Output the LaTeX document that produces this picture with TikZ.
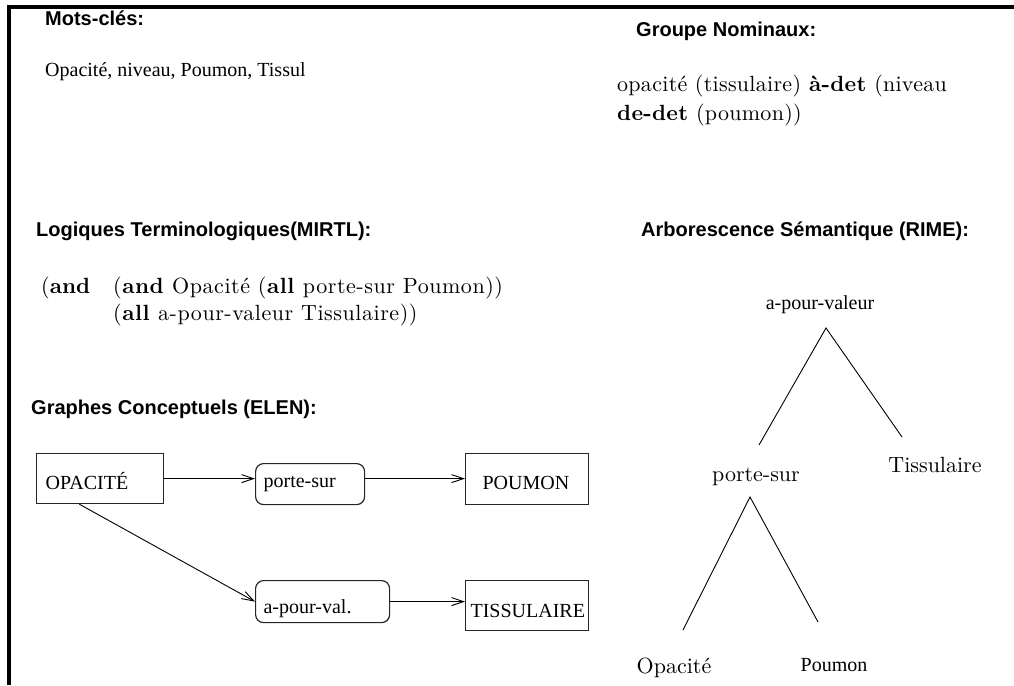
\documentclass[tikz,border=0pt]{standalone}
\usepackage{fontspec}
\setmainfont{lmroman10-regular.otf}[BoldFont=lmroman10-bold.otf]
\newfontfamily\tms{Liberation Serif}
\newfontfamily\helv{Liberation Sans}
\usetikzlibrary{arrows.meta,calc}
\begin{document}
\begin{tikzpicture}[x=1pt,y=-1pt,
  headtxt/.style={font=\helv\bfseries\fontsize{20}{24}\selectfont, inner sep=0pt, anchor=base west},
  tmtxt/.style={font=\tms\fontsize{20}{24}\selectfont, inner sep=0pt},
  cmtxt/.style={font=\fontsize{22}{28}\selectfont, inner sep=0pt},
  cbox/.style={draw=black!85, line width=1.2pt, font=\tms\fontsize{20}{24}\selectfont,
    anchor=north west, align=left, inner ysep=0pt},
  rbox/.style={cbox, rounded corners=8pt},
  arrline/.style={line width=0.9pt, -{Straight Barb[length=12pt,width=8pt,line width=0.9pt]}},
  legline/.style={line width=0.9pt}
]
\useasboundingbox (0,0) rectangle (1014,685);
\draw[line width=4pt, line join=miter] (8.5,685) -- (8.5,7.5) -- (1014,7.5);

% Mots-cles
\node[headtxt] (h1) at (45,26) {Mots-clés:};
\node[tmtxt, anchor=base west] (kw) at (45,76) {Opacité, niveau, Poumon, Tissul};

% Groupe Nominaux
\node[headtxt] (h2) at (636,37) {Groupe Nominaux:};
\node[cmtxt, anchor=base west] (gn1) at (617,92) {\addfontfeatures{LetterSpace=1.3}opacité (tissulaire) \textbf{à-det} (niveau};
\node[cmtxt, anchor=base west] (gn2) at (617,120) {\addfontfeatures{LetterSpace=1.3}\textbf{de-det} (poumon))};

% Logiques
\node[headtxt] (h3) at (36,236) {Logiques Terminologiques(MIRTL):};
\node[cmtxt, anchor=base west] (and0) at (41,293) {(\textbf{and}};
\node[cmtxt, anchor=base west] (f1) at (113,293) {\addfontfeatures{LetterSpace=2.5}(\textbf{and} Opacité (\textbf{all} porte-sur Poumon))};
\node[cmtxt, anchor=base west] (f2) at (113,320) {\addfontfeatures{LetterSpace=2.5}(\textbf{all} a-pour-valeur Tissulaire))};

% Arborescence
\node[headtxt] (h4) at (641,236) {Arborescence Sémantique (RIME):};

% Graphes
\node[headtxt] (h5) at (31,414) {Graphes Conceptuels (ELEN):};

\node[cbox, minimum width=127pt, minimum height=50pt, inner xsep=9pt, text width=109pt,
  text height=35.5pt, text depth=14.5pt] (opac) at (36,453) {OPACITÉ};
\node[rbox, minimum width=109pt, minimum height=41pt, inner xsep=8pt, text width=93pt,
  text height=24pt, text depth=17pt] (porte) at (255,463) {porte-sur};
\node[cbox, minimum width=123pt, minimum height=51pt, inner xsep=17pt, text width=89pt,
  text height=35.5pt, text depth=15.5pt] (poum) at (465,453) {POUMON};
\node[rbox, minimum width=134pt, minimum height=42pt, inner xsep=8pt, text width=118pt,
  text height=33pt, text depth=9pt] (apv) at (255,580) {a-pour-val.};
\node[cbox, minimum width=123pt, minimum height=50pt, inner xsep=5pt, text width=113pt,
  text height=36.5pt, text depth=13.5pt] (tiss) at (465,580) {TISSULAIRE};

\draw[arrline] (opac.east) -- (opac.east -| porte.west);
\draw[arrline] (porte.east |- opac.east) -- (poum.west |- opac.east);
\draw[arrline] (opac.-129.35) -- (apv.west);
\draw[arrline] (apv.east) -- (apv.east -| tiss.west);

% Tree
\node[tmtxt] (tapv) at (820,305) {a-pour-valeur};
\node[cmtxt] (tps) at (756,477) {porte-sur};
\node[cmtxt] (ttis) at (935,465) {Tissulaire};
\node[cmtxt] (top) at (674,668) {Opacité};
\node[tmtxt] (tpm) at (834,665) {Poumon};
\coordinate (a1) at (826,328);
\coordinate (l1) at (759,445);
\coordinate (r1) at (902,437);
\coordinate (a2) at (750,497);
\coordinate (l2) at (683,630);
\coordinate (r2) at (818,622);
\draw[legline] (l1) -- (a1) -- (r1);
\draw[legline] (l2) -- (a2) -- (r2);
\end{tikzpicture}
\end{document}
